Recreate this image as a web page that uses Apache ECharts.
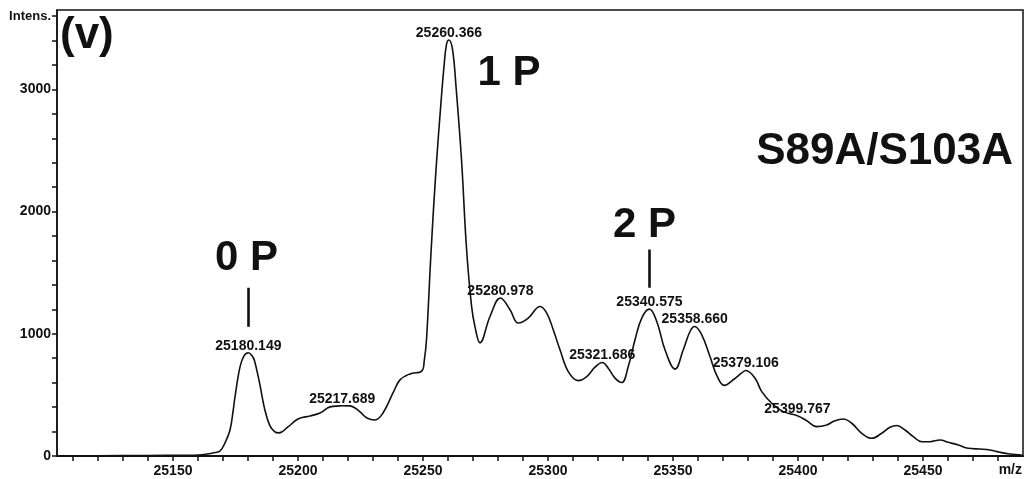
<!DOCTYPE html>
<html>
<head>
<meta charset="utf-8">
<script src="https://cdn.jsdelivr.net/npm/echarts@6/dist/echarts.min.js"></script>
<style>
  html, body { margin: 0; padding: 0; background: #fff; }
  #chart { width: 1027px; height: 479px; }
</style>
</head>
<body>
<div id="chart"></div>
<script>
// Deconvoluted mass spectrum, S89A/S103A mutant
const mzValues = [
  25104, 25120, 25140, 25155, 25160, 25163.6, 25166.8, 25168.8, 25170.8, 25172.8,
  25174.1, 25174.8, 25176.8, 25178.4, 25180.149, 25181.6, 25182.6, 25184.6, 25186.6, 25188.6,
  25190.6, 25192.4, 25196, 25200, 25204.8, 25208.8, 25212.8, 25216.8, 25217.689, 25220.8,
  25222.8, 25224.8, 25227.6, 25230.8, 25234, 25238, 25240.8, 25244.8, 25249.6, 25250.5,
  25251.4, 25253.2, 25255.2, 25257.2, 25258.4, 25259.4, 25260.366, 25261.8, 25263.2, 25265.4,
  25267.4, 25269.4, 25270.8, 25272.8, 25276.8, 25280.978, 25284.8, 25288.1, 25292.1, 25296.8,
  25299.5, 25302.1, 25304.8, 25308.1, 25312.1, 25315.5, 25318.8, 25321.686, 25324.1, 25326.8,
  25329.5, 25332.1, 25334.8, 25337.5, 25340.575, 25343.5, 25346.8, 25350.8, 25354.1, 25356.8,
  25358.66, 25361.5, 25364.8, 25367.5, 25370.5, 25374.5, 25377.5, 25379.106, 25382.8, 25385.5,
  25389.5, 25394.1, 25399.767, 25403.5, 25407.5, 25411.5, 25414.8, 25418.1, 25421.5, 25425.5,
  25429.5, 25433.5, 25436.8, 25439.5, 25442.8, 25446.1, 25449.5, 25452.8, 25456.8, 25460.1,
  25464.1, 25468.1, 25472.8, 25476.8, 25480.8, 25484.8, 25489.5
];
const intensityValues = [
  0, 2, 4, 6, 8, 16, 29, 41, 107, 213,
  377, 484, 730, 820, 845, 820, 780, 600, 390, 255,
  200, 189, 238, 303, 328, 352, 402, 410, 411, 410,
  393, 361, 311, 295, 352, 516, 623, 672, 697, 780,
  951, 1664, 2344, 2894, 3189, 3369, 3405, 3328, 3025, 2426,
  1700, 1230, 1057, 926, 1142, 1293, 1197, 1088, 1129, 1224,
  1170, 1033, 869, 691, 617, 650, 727, 765, 719, 637,
  601, 732, 951, 1129, 1202, 1101, 869, 711, 869, 1019,
  1060, 992, 814, 660, 578, 630, 680, 700, 637, 527,
  432, 363, 330, 289, 240, 254, 289, 303, 268, 186,
  145, 186, 235, 249, 213, 158, 117, 117, 131, 112,
  90, 63, 57, 49, 30, 16, 8
];

// Peaks annotated with their m/z
const labelledPeaks = [25180.149, 25217.689, 25260.366, 25280.978, 25321.686,
                       25340.575, 25358.660, 25379.106, 25399.767];

// Phosphorylation state annotations: [text, m/z, intensity]
const stateLabels = [['0 P', 25179.4, 1615], ['1 P', 25284.4, 3135], ['2 P', 25338.6, 1890]];
// Short vertical markers above the 0 P and 2 P peaks: [m/z, from, to]
const stateMarkers = [[25180.149, 1057, 1377], [25340.575, 1377, 1690]];

// Axis tick labels and tick positions
const xLabelValues = [25150, 25200, 25250, 25300, 25350, 25400, 25450];
const xTickValues = [];
for (let v = 25110; v <= 25480; v += 10) xTickValues.push(v);
const yLabelValues = [0, 1000, 2000, 3000, 3600];
const yTickValues = [];
for (let v = 0; v <= 3600; v += 200) yTickValues.push(v);

const seriesData = mzValues.map((m, i) => [m, intensityValues[i]]);
const intensityAt = m => intensityValues[mzValues.indexOf(m)];

const FONT = '"Liberation Sans", Arial, sans-serif';
const INK = '#111';

const chart = echarts.init(document.getElementById('chart'), null, { renderer: 'canvas' });

chart.setOption({
  backgroundColor: '#fff',
  animation: false,
  grid: {
    left: 57, right: 4, top: 10, bottom: 23,
    show: true, borderColor: INK, borderWidth: 1.5, backgroundColor: 'transparent'
  },
  xAxis: {
    type: 'value',
    min: 25103.6, max: 25490,
    name: 'm/z',
    nameLocation: 'end',
    nameGap: -1,
    nameMoveOverlap: false,
    nameTextStyle: { color: INK, fontFamily: FONT, fontSize: 14, fontWeight: 'bold',
                     align: 'right', verticalAlign: 'top', padding: [7, 0, 0, 0] },
    axisLine: { lineStyle: { color: INK, width: 2 } },
    axisTick: { show: true, inside: false, length: 5, customValues: xTickValues,
                lineStyle: { color: INK, width: 1.5 } },
    axisLabel: { customValues: xLabelValues, margin: 8, color: INK, fontFamily: FONT,
                 fontSize: 14, fontWeight: 'bold', formatter: v => String(v) },
    splitLine: { show: false }
  },
  yAxis: {
    type: 'value',
    min: 0, max: 3650,
    axisLine: { show: true, lineStyle: { color: INK, width: 1.5 } },
    axisTick: { show: true, inside: false, length: 5, customValues: yTickValues,
                lineStyle: { color: INK, width: 1.5 } },
    axisLabel: {
      customValues: yLabelValues, margin: 6, color: INK, fontFamily: FONT,
      fontSize: 14, fontWeight: 'bold',
      formatter: v => (v === 3600 ? '{s|Intens.}' : String(v)),
      rich: { s: { fontSize: 13, fontWeight: 'bold', fontFamily: FONT, color: INK } }
    },
    splitLine: { show: false }
  },
  series: [{
    type: 'line',
    data: seriesData,
    smooth: 0.4,
    showSymbol: false,
    symbol: 'none',
    lineStyle: { color: INK, width: 1.6 },
    markPoint: {
      symbol: 'circle',
      symbolSize: 0,
      silent: true,
      data: [
        ...labelledPeaks.map(m => ({
          coord: [m, intensityAt(m)],
          label: {
            show: true, position: 'top', distance: 0,
            formatter: m.toFixed(3),
            color: INK, fontFamily: FONT, fontSize: 14, fontWeight: 'bold'
          }
        })),
        ...stateLabels.map(([t, m, y]) => ({
          coord: [m, y],
          label: {
            show: true, position: 'inside', formatter: t,
            color: INK, fontFamily: FONT, fontSize: 42, fontWeight: 'bold'
          }
        }))
      ]
    },
    markLine: {
      silent: true,
      symbol: ['none', 'none'],
      label: { show: false },
      lineStyle: { color: INK, width: 2.6, type: 'solid' },
      data: stateMarkers.map(([m, a, b]) => [{ coord: [m, a] }, { coord: [m, b] }])
    }
  }],
  graphic: [
    {
      type: 'text', left: 60, top: 14, z: 10,
      style: { text: '(v)', fill: INK, font: 'bold 44px "Liberation Sans", Arial, sans-serif' }
    },
    {
      type: 'text', right: 14, top: 130, z: 10,
      style: { text: 'S89A/S103A', fill: INK, font: 'bold 44px "Liberation Sans", Arial, sans-serif' }
    }
  ]
});
</script>
</body>
</html>
